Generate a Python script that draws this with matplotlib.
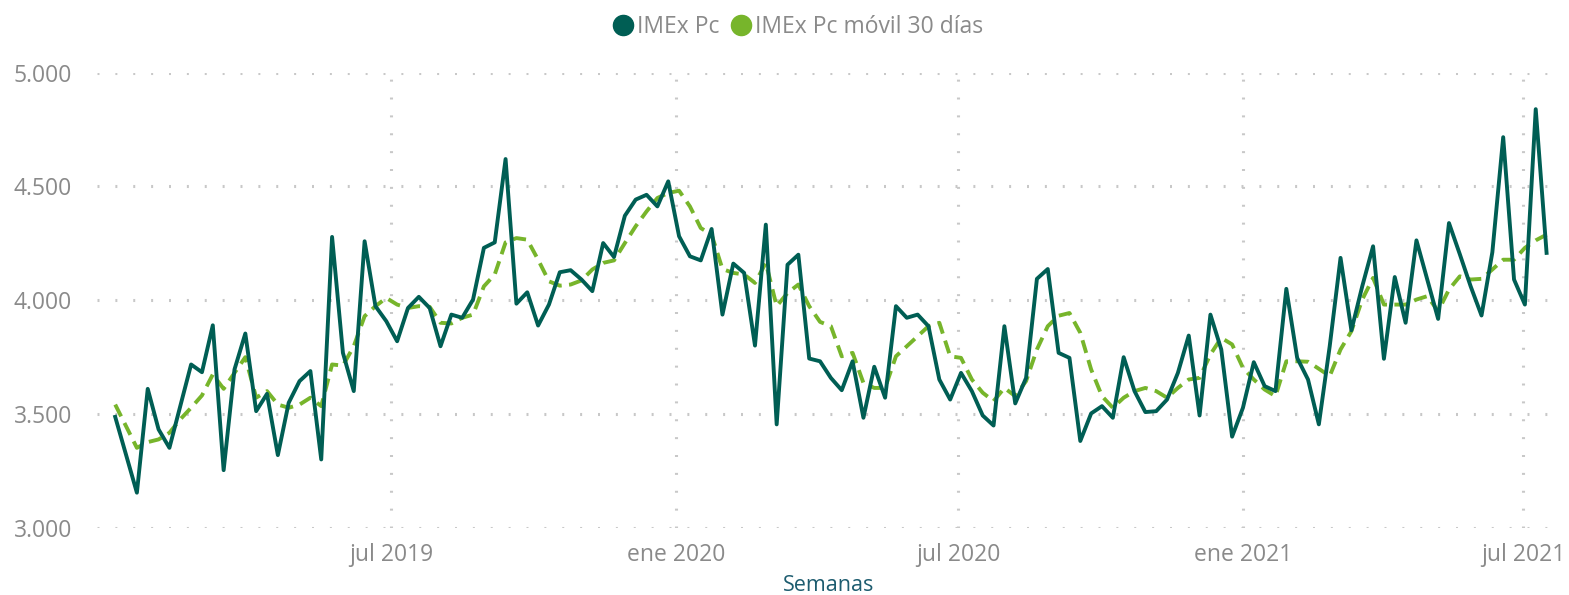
import matplotlib
matplotlib.use("Agg")
import matplotlib.pyplot as plt
from matplotlib.lines import Line2D
import pandas as pd

# ---- data ----
start_date = "2019-01-04"
imex_pc = [3488, 3322, 3155, 3611, 3433, 3352, 3535, 3718, 3684, 3890,
           3254, 3696, 3854, 3513, 3589, 3320, 3550, 3645, 3689, 3301,
           4278, 3769, 3601, 4259, 3974, 3908, 3820, 3966, 4015, 3966,
           3798, 3937, 3923, 4003, 4230, 4254, 4620, 3985, 4035, 3889,
           3981, 4123, 4132, 4091, 4040, 4251, 4190, 4371, 4442, 4463,
           4412, 4522, 4281, 4193, 4175, 4313, 3937, 4161, 4120, 3801,
           4332, 3455, 4156, 4200, 3744, 3732, 3659, 3605, 3732, 3484,
           3708, 3572, 3974, 3923, 3937, 3886, 3652, 3564, 3681, 3601,
           3494, 3450, 3886, 3547, 3659, 4094, 4137, 3769, 3747, 3382,
           3503, 3535, 3484, 3750, 3601, 3509, 3513, 3564, 3681, 3845,
           3494, 3937, 3784, 3401, 3528, 3728, 3623, 3601, 4050, 3747,
           3652, 3455, 3798, 4186, 3868, 4061, 4237, 3743, 4102, 3901,
           4263, 4091, 3918, 4339, 4202, 4061, 3933, 4211, 4716, 4091,
           3981, 4839, 4208]
imex_pc_movil = [3542, 3447, 3352, 3377, 3389, 3418, 3477, 3528, 3582, 3674,
                 3611, 3681, 3750, 3572, 3601, 3542, 3528, 3542, 3572, 3535,
                 3718, 3713, 3798, 3930, 3974, 4010, 3981, 3966, 3974, 3971,
                 3901, 3898, 3923, 3937, 4061, 4113, 4254, 4273, 4266, 4178,
                 4083, 4064, 4069, 4087, 4135, 4164, 4175, 4251, 4325, 4390,
                 4449, 4471, 4481, 4412, 4317, 4288, 4137, 4120, 4113, 4076,
                 4164, 3974, 4032, 4069, 3974, 3905, 3886, 3754, 3769, 3637,
                 3615, 3615, 3754, 3798, 3842, 3886, 3901, 3754, 3747, 3652,
                 3594, 3557, 3615, 3579, 3645, 3784, 3886, 3932, 3944, 3857,
                 3696, 3579, 3528, 3572, 3601, 3615, 3601, 3572, 3615, 3652,
                 3659, 3762, 3835, 3806, 3703, 3652, 3608, 3579, 3732, 3732,
                 3730, 3699, 3667, 3784, 3864, 4003, 4098, 3981, 3981, 3981,
                 4003, 4018, 3952, 4047, 4105, 4091, 4094, 4135, 4178, 4178,
                 4230, 4263, 4288]
tick_dates = ["2019-07-01", "2020-01-01", "2020-07-01", "2021-01-01", "2021-07-01"]
tick_labels = ["jul 2019", "ene 2020", "jul 2020", "ene 2021", "jul 2021"]
y_ticks = [3000, 3500, 4000, 4500, 5000]
y_tick_labels = ["3.000", "3.500", "4.000", "4.500", "5.000"]
series_names = ["IMEx Pc", "IMEx Pc móvil 30 días"]

dates = pd.date_range(start_date, periods=len(imex_pc), freq="7D")

# ---- style ----
plt.rcParams["font.family"] = ["Open Sans", "DejaVu Sans"]
dark = "#005E54"
green = "#77B52B"
gray_text = "#8A8A8A"
grid_c = "#C8C8C8"

W, H = 1569, 595
fig = plt.figure(figsize=(W / 100, H / 100), dpi=100)
left, right = 97, 1560
top, bottom = 72.5, 528
ax = fig.add_axes([left / W, (H - bottom) / H, (right - left) / W, (bottom - top) / H])

ax.plot(dates, imex_pc, color=dark, lw=2.8, zorder=3)
ax.plot(dates, imex_pc_movil, color=green, lw=2.8, dashes=(3.4, 1.9), zorder=2)

ax.set_ylim(3000, 5000)
ax.set_xlim(pd.Timestamp("2018-12-23 06:00"), pd.Timestamp("2021-07-24 16:00"))
ax.set_yticks(y_ticks)
ax.set_yticklabels(y_tick_labels)
ax.set_xticks(pd.to_datetime(tick_dates))
ax.set_xticklabels(tick_labels)

for s in ax.spines.values():
    s.set_visible(False)
ax.tick_params(axis="both", length=0, colors=gray_text, labelsize=16.5)
ax.tick_params(axis="y", pad=18)
ax.tick_params(axis="x", pad=10.5)
ax.grid(True, axis="both", color=grid_c, lw=2.2, linestyle=(0, (0.65, 5.2)))
ax.set_axisbelow(True)

ax.set_xlabel("Semanas", color="#1D5C6F", fontsize=15.5, labelpad=6)

handles = [Line2D([], [], marker="o", linestyle="none", markersize=14.5,
                  markerfacecolor=dark, markeredgecolor=dark),
           Line2D([], [], marker="o", linestyle="none", markersize=14.5,
                  markerfacecolor=green, markeredgecolor=green)]
leg = fig.legend(handles, series_names, loc="center", ncol=2,
                 bbox_to_anchor=(798 / W, 1 - 27 / H), frameon=False,
                 fontsize=16.5, handletextpad=0.15, columnspacing=0.5,
                 handlelength=0.9, borderaxespad=0)
for t in leg.get_texts():
    t.set_color(gray_text)

fig.savefig("out.png", dpi=100)
